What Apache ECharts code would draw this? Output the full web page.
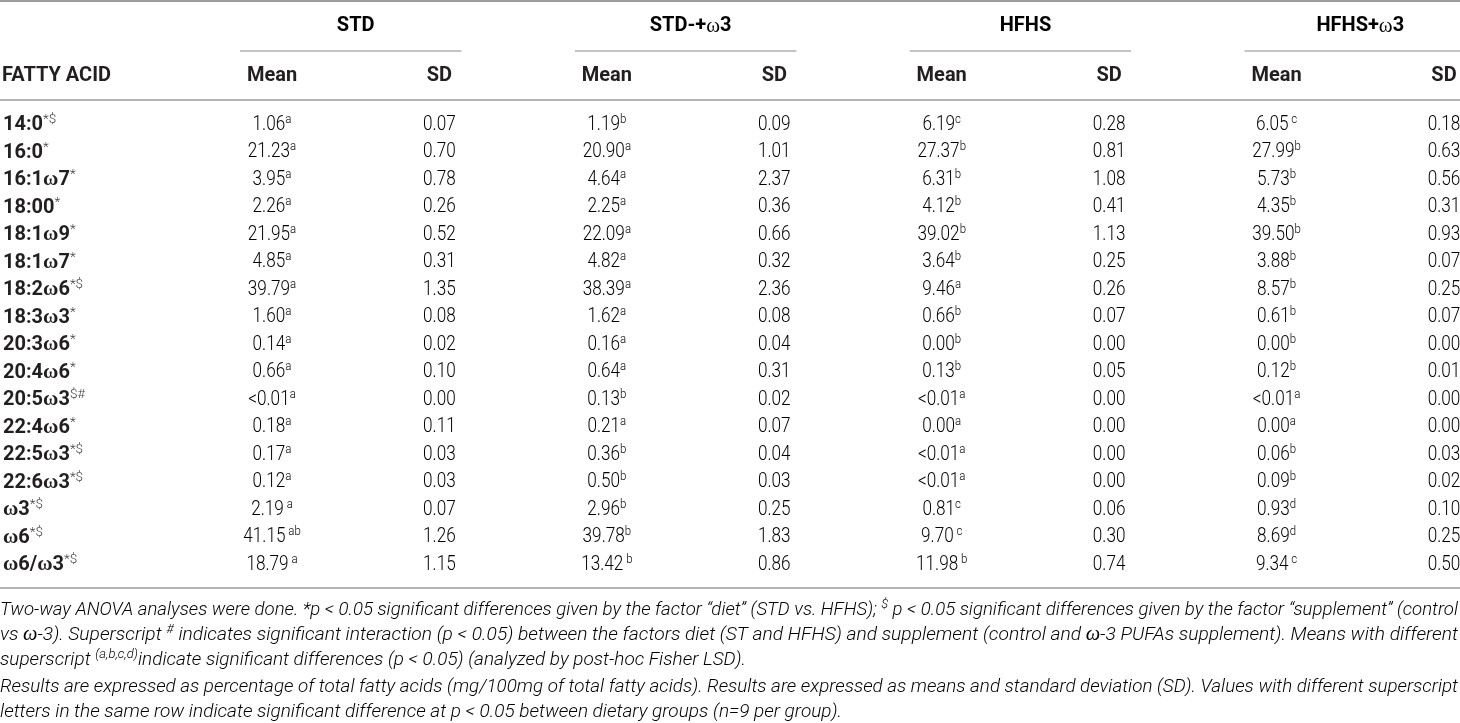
<!DOCTYPE html>
<html>
<head>
<meta charset="utf-8">
<style>
  html, body { margin: 0; padding: 0; background: #fff; }
  #main { width: 1460px; height: 723px; }
</style>
<script src="https://cdn.jsdelivr.net/npm/echarts@6/dist/echarts.min.js"></script>
</head>
<body>
<div id="main"></div>
<script>
// 行：脂肪酸及其显著性标记
const acids = ['14:0', '16:0', '16:1ω7', '18:00', '18:1ω9', '18:1ω7', '18:2ω6', '18:3ω3', '20:3ω6',
  '20:4ω6', '20:5ω3', '22:4ω6', '22:5ω3', '22:6ω3', 'ω3', 'ω6', 'ω6/ω3'];
const acidMarks = ['*$', '*', '*', '*', '*', '*', '*$', '*', '*', '*', '$#', '*', '*$', '*$', '*$', '*$', '*$'];

// 表头
const groups = ['STD', 'STD-+ω3', 'HFHS', 'HFHS+ω3'];
const colHeads = ['Mean', 'SD', 'Mean', 'SD', 'Mean', 'SD', 'Mean', 'SD'];

// STD
const stdMean = ['1.06', '21.23', '3.95', '2.26', '21.95', '4.85', '39.79', '1.60', '0.14', '0.66', '<0.01', '0.18', '0.17', '0.12', '2.19', '41.15', '18.79'];
const stdSig = ['a', 'a', 'a', 'a', 'a', 'a', 'a', 'a', 'a', 'a', 'a', 'a', 'a', 'a', ' a', ' ab', ' a'];
const stdSD = ['0.07', '0.70', '0.78', '0.26', '0.52', '0.31', '1.35', '0.08', '0.02', '0.10', '0.00', '0.11', '0.03', '0.03', '0.07', '1.26', '1.15'];

// STD-+ω3
const stdW3Mean = ['1.19', '20.90', '4.64', '2.25', '22.09', '4.82', '38.39', '1.62', '0.16', '0.64', '0.13', '0.21', '0.36', '0.50', '2.96', '39.78', '13.42'];
const stdW3Sig = ['b', 'a', 'a', 'a', 'a', 'a', 'a', 'a', 'a', 'a', 'b', 'a', 'b', 'b', 'b', 'b', ' b'];
const stdW3SD = ['0.09', '1.01', '2.37', '0.36', '0.66', '0.32', '2.36', '0.08', '0.04', '0.31', '0.02', '0.07', '0.04', '0.03', '0.25', '1.83', '0.86'];

// HFHS
const hfhsMean = ['6.19', '27.37', '6.31', '4.12', '39.02', '3.64', '9.46', '0.66', '0.00', '0.13', '<0.01', '0.00', '<0.01', '<0.01', '0.81', '9.70', '11.98'];
const hfhsSig = ['c', 'b', 'b', 'b', 'b', 'b', 'a', 'b', 'b', 'b', 'a', 'a', 'a', 'a', 'c', ' c', ' b'];
const hfhsSD = ['0.28', '0.81', '1.08', '0.41', '1.13', '0.25', '0.26', '0.07', '0.00', '0.05', '0.00', '0.00', '0.00', '0.00', '0.06', '0.30', '0.74'];

// HFHS+ω3
const hfhsW3Mean = ['6.05', '27.99', '5.73', '4.35', '39.50', '3.88', '8.57', '0.61', '0.00', '0.12', '<0.01', '0.00', '0.06', '0.09', '0.93', '8.69', '9.34'];
const hfhsW3Sig = [' c', 'b', 'b', 'b', 'b', 'b', 'b', 'b', 'b', 'b', 'a', 'a', 'b', 'b', 'd', 'd', ' c'];
const hfhsW3SD = ['0.18', '0.63', '0.56', '0.31', '0.93', '0.07', '0.25', '0.07', '0.00', '0.01', '0.00', '0.00', '0.03', '0.02', '0.10', '0.25', '0.50'];

const columns = [
  [stdMean, stdSig], [stdSD],
  [stdW3Mean, stdW3Sig], [stdW3SD],
  [hfhsMean, hfhsSig], [hfhsSD],
  [hfhsW3Mean, hfhsW3Sig], [hfhsW3SD]
];

// 单元格：[列, 行]
const cells = [];
columns.forEach(function (col, c) {
  acids.forEach(function (_, r) {
    cells.push({ value: [c, r], text: col[0][r], sup: col[1] ? col[1][r] : '' });
  });
});

const FONT = 'Roboto, "Liberation Sans", sans-serif';
const INK = '#231f20';
const RULE = '#9d9d9d';

// ω 单独用衬线字体
function omega(str, style) {
  return '{' + style + '|' + str.replace(/ω/g, '}{w|ω}{' + style + '|') + '}';
}

let chartDom = document.getElementById('main');
let myChart = echarts.init(chartDom);

let option = {
  animation: false,
  grid: {
    left: 271,
    right: 16,
    top: 111.25,
    height: 467.5
  },
  xAxis: {
    type: 'category',
    position: 'top',
    boundaryGap: false,
    data: colHeads,
    axisLine: { show: false },
    axisTick: { show: false },
    splitLine: { show: false },
    axisLabel: {
      interval: 0,
      margin: 35,
      verticalAlign: 'middle',
      color: INK,
      fontFamily: FONT,
      fontWeight: 'bold',
      fontSize: 20
    }
  },
  yAxis: {
    type: 'category',
    inverse: true,
    data: acids,
    axisLine: { show: false },
    axisTick: { show: false },
    splitLine: { show: false },
    axisLabel: {
      interval: 0,
      align: 'left',
      margin: 269,
      formatter: function (v, i) {
        return omega(v, 'n') + '{m|' + acidMarks[i] + '}';
      },
      rich: {
        n: { fontFamily: FONT, fontWeight: 'bold', fontSize: 20, lineHeight: 24, color: INK },
        w: { fontFamily: '"Liberation Serif", serif', fontWeight: 'bold', fontSize: 21, lineHeight: 24, color: INK },
        m: { fontFamily: FONT, fontWeight: 300, fontSize: 13.5, lineHeight: 13, verticalAlign: 'top', color: '#444' }
      }
    }
  },
  series: [
    {
      type: 'custom',
      coordinateSystem: 'cartesian2d',
      data: cells.map(function (d) { return d.value; }),
      renderItem: function (params, api) {
        const cell = cells[params.dataIndex];
        const p = api.coord([api.value(0), api.value(1)]);
        let text = '{v|' + cell.text + '}';
        if (cell.sup) text += '{s|' + cell.sup + '}';
        return {
          type: 'text',
          x: p[0],
          y: p[1],
          scaleX: 0.88,
          style: {
            text: text,
            align: 'center',
            verticalAlign: 'middle',
            rich: {
              v: { fontFamily: FONT, fontWeight: 300, fontSize: 19.5, lineHeight: 24, color: '#2b2b2b' },
              s: { fontFamily: FONT, fontWeight: 300, fontSize: 13, lineHeight: 13, verticalAlign: 'top', color: '#2b2b2b' }
            }
          }
        };
      }
    }
  ]
};

option && myChart.setOption(option);

/* 表头分组、横线与脚注 */
const px = function (i) { return myChart.convertToPixel({ xAxisIndex: 0 }, i); };

const noteRich = {
  t: { fontFamily: FONT, fontStyle: 'italic', fontWeight: 300, fontSize: 16, lineHeight: 20, color: INK },
  w: { fontFamily: '"Liberation Serif", serif', fontStyle: 'italic', fontSize: 17, lineHeight: 20, color: INK },
  u: { fontFamily: FONT, fontStyle: 'italic', fontWeight: 300, fontSize: 11, lineHeight: 11, verticalAlign: 'top', color: INK }
};

// 脚注：[文本片段, 样式]；end 为行尾位置（两端对齐的行到右边）
const notes = [
  { y: 610, end: 1458, parts: [['Two-way ANOVA analyses were done. *p < 0.05 significant differences given by the factor \u201cdiet\u201d (STD vs. HFHS); ', 't'], ['$', 'u'], [' p < 0.05 significant differences given by the factor \u201csupplement\u201d (control', 't']] },
  { y: 635, end: 1458, parts: [['vs ', 't'], ['ω', 'w'], ['-3). Superscript ', 't'], ['#', 'u'], [' indicates significant interaction (p < 0.05) between the factors diet (ST and HFHS) and supplement (control and ', 't'], ['ω', 'w'], ['-3 PUFAs supplement). Means with different', 't']] },
  { y: 660, end: 746, parts: [['superscript ', 't'], ['(a,b,c,d)', 'u'], ['indicate significant differences (p < 0.05) (analyzed by post-hoc Fisher LSD).', 't']] },
  { y: 687, end: 1458, parts: [['Results are expressed as percentage of total fatty acids (mg/100mg of total fatty acids). Results are expressed as means and standard deviation (SD). Values with different superscript', 't']] },
  { y: 712, end: 842, parts: [['letters in the same row indicate significant difference at p < 0.05 between dietary groups (n=9 per group).', 't']] }
];

const ctx = document.createElement('canvas').getContext('2d');
function measure(parts) {
  let w = 0;
  parts.forEach(function (p) {
    const s = noteRich[p[1]];
    ctx.font = (s.fontStyle || '') + ' ' + (s.fontWeight || 'normal') + ' ' + s.fontSize + 'px ' + s.fontFamily;
    w += ctx.measureText(p[0]).width;
  });
  return w;
}

// 未对齐行的自然缩放，用于统一字高
const kY = (746 / measure(notes[2].parts) + 842 / measure(notes[4].parts)) / 2;

let graphics = [
  { type: 'line', shape: { x1: 0, y1: 1, x2: 1460, y2: 1 }, style: { stroke: RULE, lineWidth: 2 } },
  { type: 'line', shape: { x1: 0, y1: 100, x2: 1460, y2: 100 }, style: { stroke: RULE, lineWidth: 1.5 } },
  { type: 'line', shape: { x1: 0, y1: 588, x2: 1460, y2: 588 }, style: { stroke: RULE, lineWidth: 1.5 } },
  {
    type: 'text', x: 2, y: 76,
    style: { text: 'FATTY ACID', fill: INK, font: 'bold 20px ' + FONT, align: 'left', verticalAlign: 'middle' }
  }
];

groups.forEach(function (g, k) {
  const a = px(2 * k);
  const b = px(2 * k + 1);
  graphics.push({
    type: 'text', x: (a + b) / 2, y: 26,
    style: {
      text: omega(g, 'g'), align: 'center', verticalAlign: 'middle',
      rich: {
        g: { fontFamily: FONT, fontWeight: 'bold', fontSize: 20, lineHeight: 24, color: INK },
        w: { fontFamily: '"Liberation Serif", serif', fontSize: 21, lineHeight: 24, color: INK }
      }
    }
  });
  graphics.push({
    type: 'line',
    shape: { x1: a - 32, y1: 51, x2: Math.min(b + 22, 1460), y2: 51 },
    style: { stroke: '#b0b0b0', lineWidth: 1.5 }
  });
});

notes.forEach(function (n) {
  const w = measure(n.parts);
  graphics.push({
    type: 'text', x: 0, y: n.y,
    scaleX: n.end / w,
    scaleY: kY,
    style: {
      text: n.parts.map(function (p) { return '{' + p[1] + '|' + p[0] + '}'; }).join(''),
      rich: noteRich, align: 'left', verticalAlign: 'middle'
    }
  });
});

myChart.setOption({ graphic: graphics });
</script>
</body>
</html>
